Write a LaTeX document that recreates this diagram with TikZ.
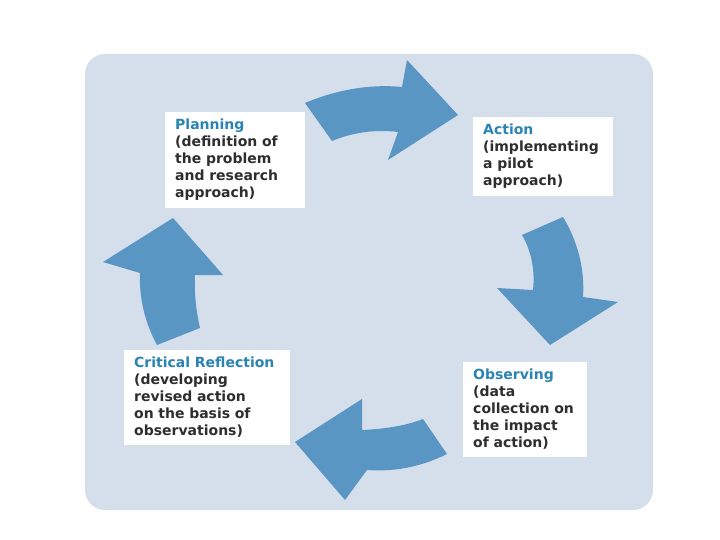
\documentclass[tikz,border=0pt]{standalone}
\usepackage{fontspec}
\setmainfont{DejaVu Sans}
\definecolor{bgpanel}{HTML}{D5DFEC}
\definecolor{arrowblue}{HTML}{5A96C3}
\definecolor{headblue}{HTML}{2A83B5}
\definecolor{bodytext}{HTML}{2E2E2E}
\tikzset{
  panel/.style={fill=bgpanel, draw=none, rounded corners=20pt},
  cyclearrow/.style={fill=arrowblue, draw=none},
  stagebox/.style={fill=white, draw=none, anchor=north west, align=left,
    inner xsep=10pt, inner ysep=7pt, font=\fontsize{14}{17}\selectfont\bfseries,
    text=bodytext}
}
\begin{document}
\begin{tikzpicture}[x=1pt,y=-1pt]
\useasboundingbox (0,0) rectangle (720,540);
\fill[white] (0,0) rectangle (720,540);
\fill[panel] (85,54) rectangle (653,510);

% stage boxes
\node[stagebox, text width=120pt] (plan) at (165,112)
  {\textcolor{headblue}{Planning}\\(definition of\\the problem\\and research\\approach)};
\node[stagebox, text width=120pt] (act) at (473,117)
  {\textcolor{headblue}{Action}\\(implementing\\a pilot\\approach)};
\node[stagebox, text width=146pt] (refl) at (124,350)
  {\textcolor{headblue}{Critical Reflection}\\(developing\\revised action\\on the basis of\\observations)};
\node[stagebox, text width=104pt] (obs) at (463,362)
  {\textcolor{headblue}{Observing}\\(data\\collection on\\the impact\\of action)};

% cycle arrows
\fill[cyclearrow] (305,103) .. controls (338,89) and (372,84) .. (402,87)
  -- (407,60) -- (458,115) -- (388,160) -- (398,132)
  .. controls (374,129) and (351,133) .. (332,141) -- cycle;
\fill[cyclearrow] (522,235) -- (563,217) .. controls (577,240) and (585,268) .. (583,297)
  -- (618,302) -- (550,345) -- (497,288) -- (533,290)
  .. controls (535,272) and (532,252) .. (522,235) -- cycle;
\fill[cyclearrow] (423,419) -- (447,454) .. controls (421,467) and (394,472) .. (367,470)
  -- (345,500) -- (295,442) -- (362,399) -- (362,430)
  .. controls (384,429) and (405,426) .. (423,419) -- cycle;
\fill[cyclearrow] (157,345) -- (200,328) .. controls (196,310) and (194,292) .. (195,275)
  -- (223,275) -- (173,218) -- (103,262) -- (140,273)
  .. controls (139,298) and (145,323) .. (157,345) -- cycle;
\end{tikzpicture}
\end{document}
